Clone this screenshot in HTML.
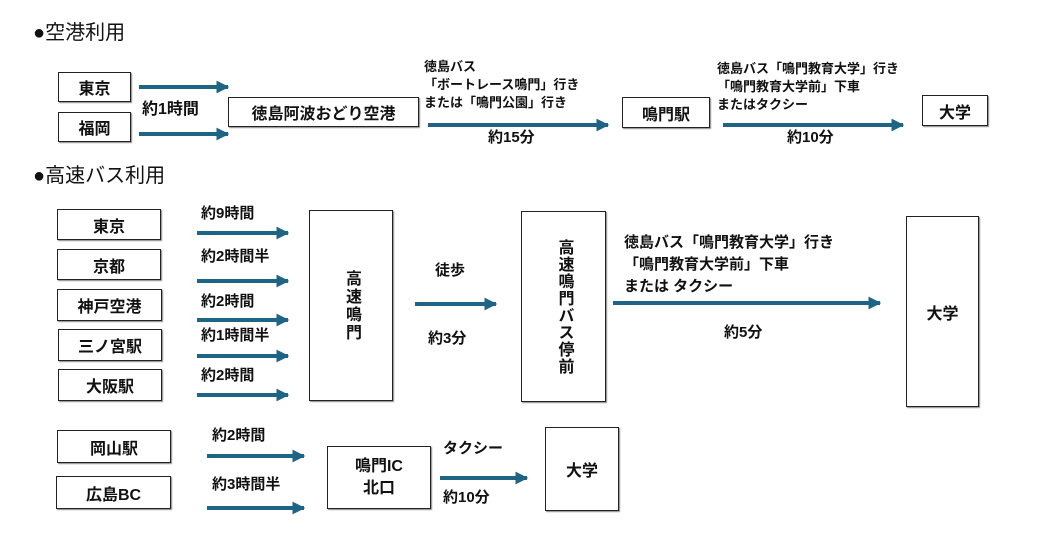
<!DOCTYPE html>
<html><head><meta charset="utf-8"><style>
body{margin:0;width:1042px;height:542px;background:#fff;position:relative;overflow:hidden;font-family:"Liberation Sans","Noto Sans CJK JP",sans-serif;color:#111}
.b{position:absolute;border:1.6px solid #222;box-sizing:border-box;display:flex;align-items:center;justify-content:center;font-weight:bold;font-size:16px;box-shadow:1px 1px 1px #888;background:#fff}
.t{position:absolute;font-weight:bold;font-size:15px;white-space:nowrap;line-height:1}
.h{position:absolute;font-size:20px;white-space:nowrap;line-height:1}
.s{font-size:13px;line-height:18px}
.v{writing-mode:vertical-rl;letter-spacing:2px}
svg{position:absolute;left:0;top:0}
</style></head><body>
<svg width="1042" height="542">
<defs><marker id="a" viewBox="0 0 10 10" refX="9" refY="5" markerWidth="3.2" markerHeight="3.2" orient="auto" markerUnits="strokeWidth"><path d="M0 0L10 5L0 10z" fill="#1e6585"/></marker></defs>
<g stroke="#1e6585" stroke-width="4" marker-end="url(#a)">
<line x1="139" y1="87" x2="228" y2="87"/>
<line x1="139" y1="134" x2="228" y2="134"/>
<line x1="428" y1="125" x2="608" y2="125"/>
<line x1="723" y1="125" x2="903" y2="125"/>
<line x1="197" y1="233" x2="288" y2="233"/>
<line x1="197" y1="281" x2="288" y2="281"/>
<line x1="197" y1="320" x2="288" y2="320"/>
<line x1="197" y1="356" x2="288" y2="356"/>
<line x1="197" y1="395" x2="288" y2="395"/>
<line x1="415" y1="304" x2="496" y2="304"/>
<line x1="613" y1="303" x2="880" y2="303"/>
<line x1="207" y1="456" x2="304" y2="456"/>
<line x1="207" y1="508" x2="304" y2="508"/>
<line x1="440" y1="478" x2="527" y2="478"/>
</g></svg>
<div class="h" style="left:33px;top:23px">●空港利用</div>
<div class="b" style="left:58px;top:72px;width:73px;height:30px">東京</div>
<div class="b" style="left:58px;top:112px;width:73px;height:30px">福岡</div>
<div class="t" style="left:142px;top:102px;font-size:16px">約1時間</div>
<div class="b" style="left:228px;top:97px;width:191px;height:30px">徳島阿波おどり空港</div>
<div class="t s" style="left:424px;top:58px">徳島バス<br>「ボートレース鳴門」行き<br>または「鳴門公園」行き</div>
<div class="t" style="left:488px;top:130px">約15分</div>
<div class="b" style="left:622px;top:97px;width:88px;height:31px">鳴門駅</div>
<div class="t s" style="left:717px;top:60px">徳島バス「鳴門教育大学」行き<br>「鳴門教育大学前」下車<br>またはタクシー</div>
<div class="t" style="left:787px;top:130px">約10分</div>
<div class="b" style="left:922px;top:95px;width:66px;height:31px">大学</div>

<div class="h" style="left:33px;top:166px">●高速バス利用</div>
<div class="b" style="left:57px;top:209px;width:104px;height:31px">東京</div>
<div class="b" style="left:57px;top:249px;width:104px;height:31px">京都</div>
<div class="b" style="left:57px;top:289px;width:105px;height:32px">神戸空港</div>
<div class="b" style="left:58px;top:329px;width:104px;height:32px">三ノ宮駅</div>
<div class="b" style="left:58px;top:369px;width:104px;height:32px">大阪駅</div>
<div class="t" style="left:201px;top:206px">約9時間</div>
<div class="t" style="left:201px;top:249px">約2時間半</div>
<div class="t" style="left:201px;top:294px">約2時間</div>
<div class="t" style="left:201px;top:328px">約1時間半</div>
<div class="t" style="left:201px;top:368px">約2時間</div>
<div class="b" style="left:309px;top:210px;width:84px;height:191px;align-items:center"><span class="v" style="font-size:16px">高速鳴門</span></div>
<div class="t" style="left:435px;top:263px">徒歩</div>
<div class="t" style="left:428px;top:331px">約3分</div>
<div class="b" style="left:521px;top:211px;width:85px;height:191px"><span class="v" style="font-size:16px;letter-spacing:1px">高速鳴門バス停前</span></div>
<div class="t" style="left:624px;top:232px;line-height:22px">徳島バス「鳴門教育大学」行き<br>「鳴門教育大学前」下車<br>または タクシー</div>
<div class="t" style="left:724px;top:325px">約5分</div>
<div class="b" style="left:906px;top:216px;width:73px;height:191px">大学</div>

<div class="b" style="left:57px;top:430px;width:114px;height:33px">岡山駅</div>
<div class="b" style="left:56px;top:476px;width:115px;height:33px">広島BC</div>
<div class="t" style="left:212px;top:428px">約2時間</div>
<div class="t" style="left:212px;top:477px">約3時間半</div>
<div class="b" style="left:327px;top:446px;width:104px;height:63px;line-height:22px;text-align:center">鳴門IC<br>北口</div>
<div class="t" style="left:443px;top:441px">タクシー</div>
<div class="t" style="left:443px;top:490px">約10分</div>
<div class="b" style="left:545px;top:427px;width:74px;height:84px">大学</div>
</body></html>
